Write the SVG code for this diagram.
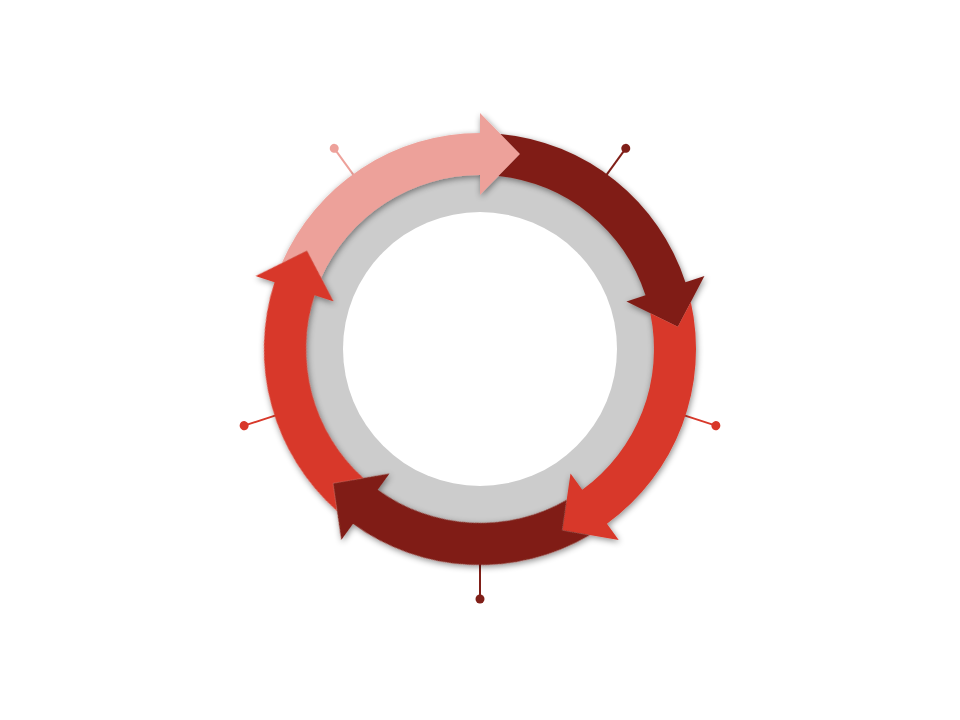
<svg xmlns="http://www.w3.org/2000/svg" xmlns:xlink="http://www.w3.org/1999/xlink" width="960" height="720" viewBox="0 0 960 720">
  <style>
    .pink { fill: #EDA19A; stroke: #EDA19A; }
    .dark { fill: #801F18; stroke: #801F18; }
    .red  { fill: #D8382A; stroke: #D8382A; }
    .arrow { stroke: none; }
    .pin line { stroke-width: 2; }
    .pin circle { stroke: none; }
  </style>
  <defs>
    <filter id="softShadow" x="-20%" y="-20%" width="140%" height="140%">
      <feDropShadow dx="1" dy="2" stdDeviation="3" flood-color="#000" flood-opacity="0.45"/>
    </filter>
    <!-- one 72-degree band segment ending in a head at 12 o'clock; the tail is notched to fit the previous head -->
    <path id="segment" d="M 281.82 263.09 A 216 216 0 0 1 480 133 L 480 113 L 520 154 L 480 195 L 480 175 A 174 174 0 0 0 321.19 277.89 L 306.9 250.7 Z"/>
  </defs>

  <rect width="960" height="720" fill="#FFFFFF"/>

  <!-- grey ring -->
  <g id="ring">
    <circle cx="480" cy="349" r="176" fill="#CCCCCC"/>
    <circle cx="480" cy="349" r="137" fill="#FFFFFF"/>
  </g>

  <!-- pins, one at the middle of each segment -->
  <g id="pins">
    <g id="pin-1" class="pin pink" transform="rotate(-36 480 349)">
      <line x1="480" y1="139" x2="480" y2="101"/><circle cx="480" cy="101" r="4.5"/>
    </g>
    <g id="pin-2" class="pin dark" transform="rotate(36 480 349)">
      <line x1="480" y1="139" x2="480" y2="101"/><circle cx="480" cy="101" r="4.5"/>
    </g>
    <g id="pin-3" class="pin red" transform="rotate(108 480 349)">
      <line x1="480" y1="139" x2="480" y2="101"/><circle cx="480" cy="101" r="4.5"/>
    </g>
    <g id="pin-4" class="pin dark" transform="rotate(180 480 349)">
      <line x1="480" y1="139" x2="480" y2="99"/><circle cx="480" cy="99" r="4.5"/>
    </g>
    <g id="pin-5" class="pin red" transform="rotate(252 480 349)">
      <line x1="480" y1="139" x2="480" y2="101"/><circle cx="480" cy="101" r="4.5"/>
    </g>
  </g>

  <!-- circular arrows, clockwise -->
  <g id="arrows" filter="url(#softShadow)">
    <g id="arrow-1" class="arrow pink"><use xlink:href="#segment"/></g>
    <g id="arrow-2" class="arrow dark" transform="rotate(72 480 349)"><use xlink:href="#segment"/></g>
    <g id="arrow-3" class="arrow red" transform="rotate(144 480 349)"><use xlink:href="#segment"/></g>
    <g id="arrow-4" class="arrow dark" transform="rotate(216 480 349)"><use xlink:href="#segment"/></g>
    <g id="arrow-5" class="arrow red" transform="rotate(288 480 349)"><use xlink:href="#segment"/></g>
  </g>
</svg>
